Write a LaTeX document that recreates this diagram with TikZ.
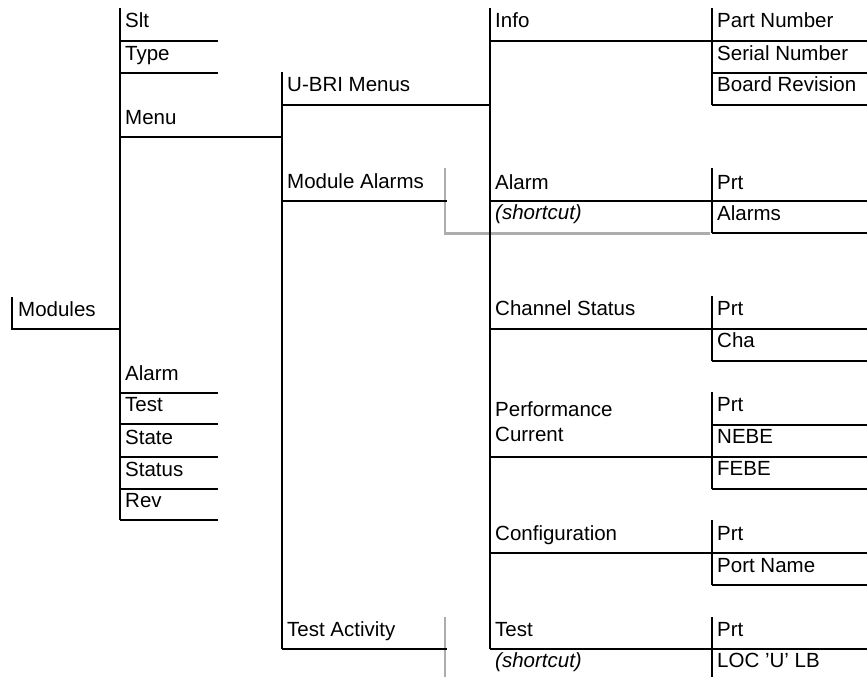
\documentclass[tikz,border=0pt]{standalone}
\usepackage{fontspec}
\setmainfont{Liberation Sans}
\begin{document}
\begin{tikzpicture}[x=1pt,y=-1pt,
  rule/.style={line width=2.3pt,black},
  shortcutline/.style={line width=2.3pt,color=black!32},
  lbl/.style={anchor=base west,inner sep=0pt,font=\fontsize{20.5}{24}\selectfont},
  note/.style={lbl,font=\fontsize{20.5}{24}\selectfont\itshape}]
\useasboundingbox (0,0) rectangle (867,677);

% ---- gray shortcut markers
\draw[shortcutline] (445,168) -- (445,233.5) -- (710,233.5);
\draw[shortcutline] (445,617) -- (445,677);

% ---- level 1
\draw[rule] (12,297) -- (12,329) -- (120,329);
\node[lbl] (modules) at (18,316) {Modules};

% ---- level 2
\draw[rule] (120,8) -- (120,520);
\foreach \y in {41,73,393,424,457,489,520}
  \draw[rule] (120,\y) -- (218,\y);
\draw[rule] (120,137) -- (282,137);
\node[lbl] (slt)    at (125,28)  {Slt};
\node[lbl] (type)   at (125,60)  {Type};
\node[lbl] (menu)   at (125,124) {Menu};
\node[lbl] (alarm)  at (125,380) {Alarm};
\node[lbl] (test)   at (125,411) {Test};
\node[lbl] (state)  at (125,444) {State};
\node[lbl] (status) at (125,476) {Status};
\node[lbl] (rev)    at (125,507) {Rev};

% ---- level 3
\draw[rule] (282,72) -- (282,649);
\draw[rule] (282,105) -- (490,105);
\draw[rule] (282,201) -- (447,201);
\draw[rule] (282,649) -- (447,649);
\node[lbl] (ubri)    at (287,91)  {U-BRI Menus};
\node[lbl] (modalm)  at (287,188) {Module Alarms};
\node[lbl] (testact) at (287,636) {Test Activity};

% ---- level 4
\draw[rule] (490,8) -- (490,649);
\foreach \y in {41,201,329,457,553,649}
  \draw[rule] (490,\y) -- (867,\y);
\node[lbl]  (info)   at (495,28)  {Info};
\node[lbl]  (alm4)   at (495,189) {Alarm};
\node[note] (sc1)    at (495,219) {(shortcut)};
\node[lbl]  (chst)   at (495,315) {Channel Status};
\node[lbl]  (perf)   at (495,416) {Performance};
\node[lbl]  (curr)   at (495,441) {Current};
\node[lbl]  (config) at (495,540) {Configuration};
\node[lbl]  (test4)  at (495,636) {Test};
\node[note] (sc2)    at (495,667) {(shortcut)};

% ---- level 5
\foreach \a/\b in {8/105,168/233,296/361,392/489,520/585,617/677}
  \draw[rule] (712,\a) -- (712,\b);
\foreach \y in {73,105,233,361,425,489,585}
  \draw[rule] (712,\y) -- (867,\y);
\node[lbl] (partno)  at (717,28)  {Part Number};
\node[lbl] (serial)  at (717,60)  {Serial Number};
\node[lbl] (board)   at (717,92)  {Board Revision};
\node[lbl] (prtA)    at (717,189) {Prt};
\node[lbl] (alarms)  at (717,220) {Alarms};
\node[lbl] (prtB)    at (717,315) {Prt};
\node[lbl] (cha)     at (717,347) {Cha};
\node[lbl] (prtC)    at (717,411) {Prt};
\node[lbl] (nebe)    at (717,443) {NEBE};
\node[lbl] (febe)    at (717,475) {FEBE};
\node[lbl] (prtD)    at (717,540) {Prt};
\node[lbl] (portnm)  at (717,572) {Port Name};
\node[lbl] (prtE)    at (717,636) {Prt};
\node[lbl] (loc)     at (717,667) {LOC ’U’ LB};
\end{tikzpicture}
\end{document}
